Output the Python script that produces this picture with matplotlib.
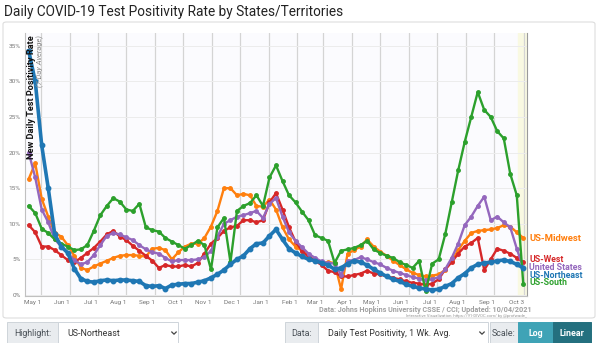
import pandas as pd
import numpy as np
import matplotlib
matplotlib.use('Agg')
import matplotlib.pyplot as plt
from matplotlib.patches import FancyBboxPatch, Rectangle
from matplotlib.lines import Line2D

plt.rcParams['font.family'] = ['Roboto', 'DejaVu Sans']

# weekly readings of the 7-day test positivity (%)
dates = pd.date_range('2020-04-18', periods=77, freq='7D')

northeast = [34.3, 30.0, 21.0, 15.0, 8.5, 6.8, 5.9, 3.7, 2.3, 1.9, 1.8, 2.0, 2.1, 2.0, 2.1, 2.1, 2.0, 1.9, 1.3, 1.2, 1.3, 0.9, 1.4, 1.5, 1.6,
             1.6, 1.8, 2.0, 2.4, 2.9, 3.5, 4.3, 5.0, 5.5, 6.5, 7.2, 7.3, 8.3, 9.2, 7.8, 6.5, 5.9, 5.4, 5.0, 4.8, 4.5, 4.2, 3.6, 3.8, 4.4, 4.8,
             4.6, 4.2, 3.6, 3.1, 2.6, 2.2, 1.9, 1.5, 1.2, 1.0, 0.8, 0.7, 0.8, 1.2, 1.6, 2.4, 3.0, 3.8, 4.3, 4.5, 4.6, 4.8, 4.9, 4.7, 4.3, 3.8]
midwest = [16.3, 18.5, 13.5, 11.0, 8.7, 8.2, 7.0, 5.5, 3.8, 3.5, 4.0, 4.4, 4.8, 5.2, 5.5, 5.6, 5.6, 5.5, 5.4, 6.5, 6.6, 6.3, 5.0, 6.0, 6.8,
           7.2, 7.2, 8.0, 9.6, 11.8, 15.0, 15.0, 14.0, 14.2, 14.0, 12.5, 12.4, 13.4, 12.0, 9.5, 7.8, 6.8, 6.2, 5.5, 4.9, 4.5, 4.6, 4.5, 0.8, 5.8, 6.3,
           6.8, 7.8, 6.8, 6.1, 5.5, 4.8, 4.2, 3.6, 3.1, 2.8, 2.6, 2.7, 2.9, 3.5, 4.8, 6.3, 7.6, 8.7, 9.0, 9.1, 9.2, 9.4, 9.8, 9.6, 8.8, 8.0]
west = [9.8, 8.8, 6.8, 6.8, 6.3, 5.6, 4.9, 4.6, 5.2, 5.9, 6.6, 7.5, 8.5, 9.0, 8.2, 7.7, 6.9, 6.2, 5.5, 4.8, 3.8, 4.2, 4.0, 4.0, 4.2,
        4.0, 4.5, 5.8, 7.2, 8.0, 9.0, 9.5, 9.7, 10.5, 10.5, 10.2, 10.5, 13.0, 14.3, 12.0, 9.5, 7.5, 6.2, 5.3, 4.8, 4.2, 3.4, 3.2, 2.6, 2.6, 2.8,
        3.0, 3.4, 3.0, 2.9, 2.6, 2.4, 2.2, 1.9, 1.7, 1.6, 1.4, 1.6, 2.2, 3.6, 4.6, 5.8, 6.8, 7.3, 8.0, 3.5, 5.0, 6.5, 6.2, 5.8, 5.2, 4.6]
united_states = [20.0, 16.5, 12.0, 10.2, 7.8, 6.8, 5.9, 4.9, 4.3, 4.6, 5.6, 7.0, 8.3, 8.7, 8.5, 8.1, 7.7, 7.0, 6.4, 6.0, 5.8, 5.2, 4.7, 4.9, 4.9,
                 4.9, 5.0, 5.3, 6.2, 8.2, 10.0, 10.5, 11.0, 11.2, 11.5, 11.8, 10.8, 12.8, 13.6, 11.0, 8.8, 7.6, 6.7, 5.8, 5.2, 4.7, 4.5, 4.4, 2.8, 4.8, 4.9,
                 5.3, 5.0, 4.6, 4.3, 3.8, 3.4, 3.1, 2.8, 2.5, 2.3, 2.1, 2.2, 2.5, 3.6, 5.2, 7.2, 9.8, 11.0, 12.5, 13.8, 10.5, 11.0, 10.2, 9.5, 6.5, 3.8]
south = [12.5, 11.5, 9.3, 8.7, 7.8, 7.2, 6.8, 6.3, 6.4, 7.0, 9.0, 11.2, 12.5, 13.6, 13.1, 12.0, 11.8, 12.8, 9.5, 9.1, 8.9, 8.0, 7.5, 7.0, 6.5,
         7.0, 7.6, 7.0, 3.6, 9.5, 10.8, 4.6, 11.8, 12.5, 12.9, 14.0, 12.5, 16.5, 18.2, 16.0, 14.0, 13.0, 11.7, 10.5, 8.4, 8.0, 7.6, 4.5, 6.2, 6.4, 6.6,
         7.0, 7.6, 6.4, 5.9, 5.5, 5.2, 4.6, 4.2, 3.8, 4.8, 0.5, 4.4, 5.0, 8.5, 13.0, 17.5, 21.5, 25.0, 28.5, 26.0, 25.0, 23.0, 22.0, 17.0, 14.0, 1.5]

names = ['US-Midwest', 'US-West', 'United States', 'US-Northeast', 'US-South']
colors = ['#ff7f0e', '#d62728', '#9467bd', '#1f77b4', '#2ca02c']
highlight = 'US-Northeast'

tick_dates = list(pd.date_range('2020-05-01', '2021-09-01', freq='MS')) + [pd.Timestamp('2021-10-03')]
tick_labels = [d.strftime('%b ') + str(d.day) for d in tick_dates]

W, H = 600, 343
fig = plt.figure(figsize=(W / 100, H / 100), dpi=100)

def fx(px):
    return px / W

def fy(py):
    return 1 - py / H

# title and card
fig.text(fx(4), fy(12), 'Daily COVID-19 Test Positivity Rate by States/Territories',
         fontsize=9.85, color='#222222', va='center', ha='left')
fig.add_artist(FancyBboxPatch((fx(3), fy(318)), fx(592), fy(22) - fy(318),
                              boxstyle='round,pad=0,rounding_size=0.006', transform=fig.transFigure,
                              facecolor='white', edgecolor='#dddddd', lw=0.8, zorder=0))

ax = fig.add_axes([fx(25), fy(296), fx(527) - fx(25), fy(33) - fy(296)])
ax.set_facecolor('#fbfbfe')

series = dict(zip(names, [midwest, west, united_states, northeast, south]))
for name, col in zip(names, colors):
    big = name == highlight
    ax.plot(dates, series[name], color=col, lw=2.6 if big else 1.7,
            marker='o', ms=3.2 if big else 2.5, zorder=4 if big else 3)

ax.axvspan(pd.Timestamp('2021-09-26'), pd.Timestamp('2021-10-06'), color='#f9f9e2', zorder=0)

ax.set_xlim(pd.Timestamp('2020-04-14'), pd.Timestamp('2021-10-06'))
ax.set_ylim(-0.15, 36.8)
ax.set_yticks(range(0, 40, 5))
ax.set_yticklabels([f'{v}%' for v in range(0, 40, 5)])
ax.set_xticks(tick_dates)
ax.set_xticklabels(tick_labels, ha='right')
ax.tick_params(axis='both', labelsize=4.6, labelcolor='#777777', length=0, pad=3)
ax.grid(axis='x', color='#d4d4d4', lw=0.9, zorder=1)
ax.grid(axis='y', color='#ececec', lw=0.7, zorder=1)
ax.set_axisbelow(True)
ax.spines['top'].set_visible(False)
ax.spines['left'].set_color('#c0c0c0')
ax.spines['bottom'].set_color('#c0c0c0')
ax.spines['right'].set_color('#9a9a9a')

ax.text(0.012, 0.992, 'New Daily Test Positivity Rate', transform=ax.transAxes, rotation=90,
        ha='center', va='top', fontsize=6.6, fontweight='bold', color='#111111', zorder=6)
ax.text(0.03, 0.992, '(7-Day Average)', transform=ax.transAxes, rotation=90,
        ha='center', va='top', fontsize=5.4, style='italic', color='#888888', zorder=6)

# end labels
label_y = {'US-Midwest': 7.9, 'US-West': 5.0, 'United States': 3.9, 'US-Northeast': 2.8, 'US-South': 1.7}
for name, col in zip(names, colors):
    ax.text(1.004, label_y[name], name, transform=ax.get_yaxis_transform(), color=col,
            fontsize=6.3 if name != 'US-Midwest' else 6.8, fontweight='bold', va='center', ha='left',
            clip_on=False)

# source notes
fig.text(fx(425), fy(310), 'Data: Johns Hopkins University CSSE / CCI; Updated: 10/04/2021',
         fontsize=5.2, fontweight='bold', color='#a0a0a0', ha='center', va='center')
fig.text(fx(527), fy(316.5), 'Interactive Visualization: https://91-DIVOC.com/ by @profwade_',
         fontsize=3.1, color='#999999', ha='right', va='center')

# controls
def box(x0, x1, face, edge='#ced4da'):
    fig.add_artist(Rectangle((fx(x0), fy(346)), fx(x1 - x0), fy(322) - fy(346), transform=fig.transFigure,
                             facecolor=face, edgecolor=edge, lw=0.7))

def chevron(xc):
    fig.add_artist(Line2D([fx(xc - 2.2), fx(xc), fx(xc + 2.2)], [fy(332), fy(334.2), fy(332)],
                          transform=fig.transFigure, color='#444444', lw=0.9))

box(7, 58, '#e9ecef')
box(58, 178, 'white')
fig.text(fx(32.5), fy(334), 'Highlight:', fontsize=6.4, color='#495057', ha='center', va='center')
fig.text(fx(67), fy(334), 'US-Northeast', fontsize=6.4, color='#333333', ha='left', va='center')
chevron(174)

box(285, 318, '#e9ecef')
box(318, 488, 'white')
fig.text(fx(301.5), fy(334), 'Data:', fontsize=6.4, color='#495057', ha='center', va='center')
fig.text(fx(328), fy(334), 'Daily Test Positivity, 1 Wk. Avg.', fontsize=6.4, color='#333333',
         ha='left', va='center')
chevron(482)

box(490, 518, '#e9ecef')
box(518, 553, '#3fa3b6', edge='#3fa3b6')
box(553, 591, '#24707f', edge='#24707f')
fig.text(fx(504), fy(334), 'Scale:', fontsize=6.4, color='#495057', ha='center', va='center')
fig.text(fx(535.5), fy(334), 'Log', fontsize=6.4, color='white', fontweight='bold', ha='center', va='center')
fig.text(fx(572), fy(334), 'Linear', fontsize=6.4, color='white', fontweight='bold', ha='center', va='center')

fig.savefig('out.png', dpi=100)
